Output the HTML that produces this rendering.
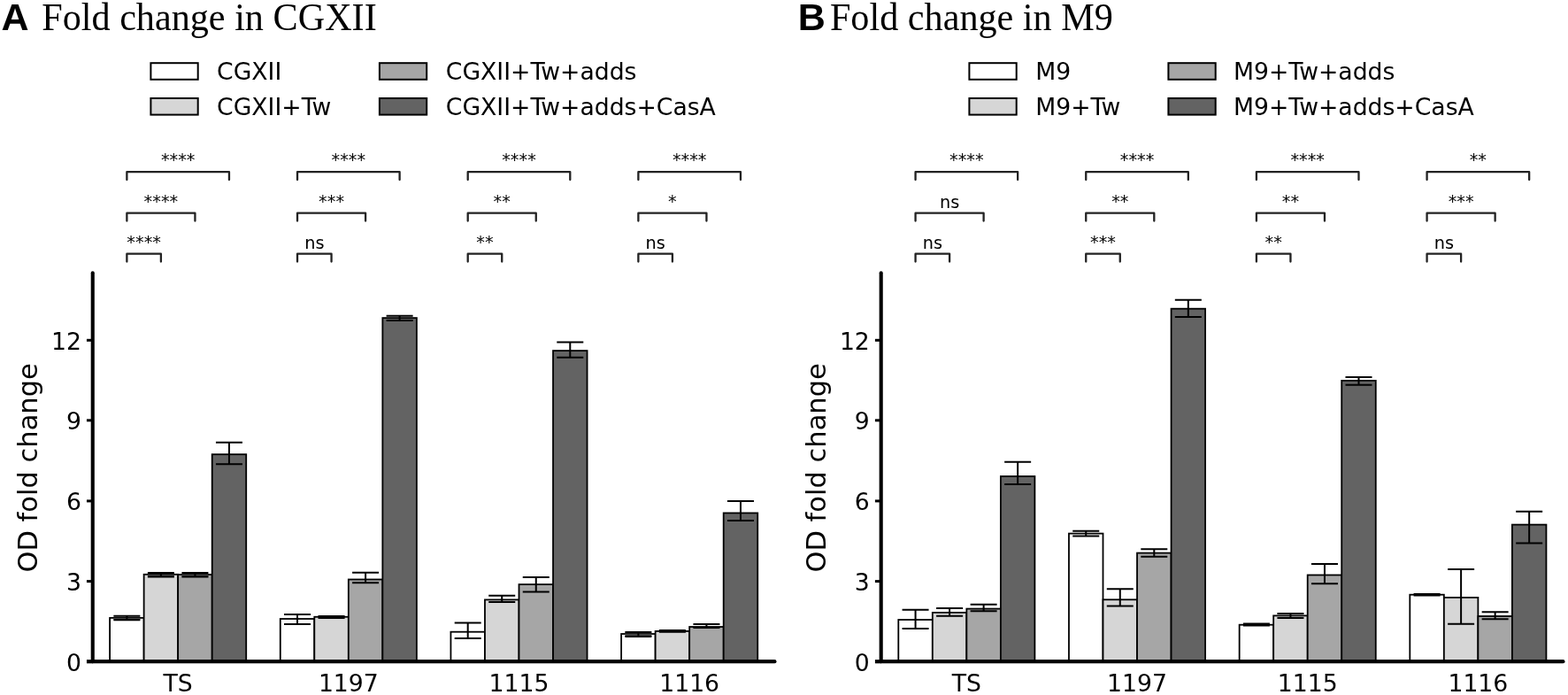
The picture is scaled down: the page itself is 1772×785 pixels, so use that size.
<!DOCTYPE html>
<html><head><meta charset="utf-8"><title>Fold change</title>
<style>
html,body{margin:0;padding:0;background:#fff;}
body{width:1772px;height:785px;overflow:hidden;}
svg{display:block;}
text{fill:#000;}
</style></head>
<body>
<svg width="1772" height="785" viewBox="0 0 1772 785">
<rect width="1772" height="785" fill="#fff"/>
<text x="1.45" y="34.4" font-family="'Liberation Sans', sans-serif" font-weight="bold" font-size="43">A</text>
<text transform="translate(47.2 33.9) scale(1 1.035)" font-family="'Liberation Serif', serif" font-size="42.2">Fold change in CGXII</text>
<rect x="170.4" y="71.2" width="53.3" height="18.6" fill="#ffffff" stroke="#000" stroke-width="2"/>
<text x="245.1" y="90.4" font-family="'DejaVu Sans', 'Liberation Sans', sans-serif" font-size="26.67">CGXII</text>
<rect x="170.4" y="111" width="53.3" height="18.6" fill="#d6d6d6" stroke="#000" stroke-width="2"/>
<text x="245.1" y="130.2" font-family="'DejaVu Sans', 'Liberation Sans', sans-serif" font-size="26.67">CGXII+Tw</text>
<rect x="428.9" y="71.2" width="53.3" height="18.6" fill="#a6a6a6" stroke="#000" stroke-width="2"/>
<text x="503.8" y="90.4" font-family="'DejaVu Sans', 'Liberation Sans', sans-serif" font-size="26.67">CGXII+Tw+adds</text>
<rect x="428.9" y="111" width="53.3" height="18.6" fill="#636363" stroke="#000" stroke-width="2"/>
<text x="503.8" y="130.2" font-family="'DejaVu Sans', 'Liberation Sans', sans-serif" font-size="26.67">CGXII+Tw+adds+CasA</text>
<rect x="124.1" y="697.9" width="38.53" height="49.3" fill="#ffffff" stroke="#000" stroke-width="1.8"/>
<rect x="162.63" y="648.8" width="38.53" height="98.4" fill="#d6d6d6" stroke="#000" stroke-width="1.8"/>
<rect x="201.16" y="649" width="38.53" height="98.2" fill="#a6a6a6" stroke="#000" stroke-width="1.8"/>
<rect x="239.69" y="513.2" width="38.53" height="234" fill="#636363" stroke="#000" stroke-width="1.8"/>
<rect x="128.37" y="697.9" width="30" height="2.4" fill="#404040"/>
<path d="M143.37 695.7V700.3M128.37 695.7H158.37M128.37 700.3H158.37" stroke="#000" stroke-width="2" fill="none"/>
<rect x="166.89" y="648.8" width="30" height="2.7" fill="#404040"/>
<path d="M181.89 647V651.5M166.89 647H196.89M166.89 651.5H196.89" stroke="#000" stroke-width="2" fill="none"/>
<rect x="205.43" y="649" width="30" height="2.5" fill="#404040"/>
<path d="M220.43 647V651.5M205.43 647H235.43M205.43 651.5H235.43" stroke="#000" stroke-width="2" fill="none"/>
<path d="M258.95 499.7V524.2M243.95 499.7H273.95M243.95 524.2H273.95" stroke="#000" stroke-width="2" fill="none"/>
<text x="201.16" y="781" text-anchor="middle" font-family="'DejaVu Sans', 'Liberation Sans', sans-serif" font-size="26.67">TS</text>
<path d="M143.37 203.1V194.2H258.96V203.1" stroke="#222" stroke-width="2.3" fill="none" stroke-linejoin="round" stroke-linecap="round"/>
<text x="201.16" y="187.4" text-anchor="middle" font-family="'DejaVu Sans', 'Liberation Sans', sans-serif" font-size="19.3">****</text>
<path d="M143.37 249.6V240.7H220.43V249.6" stroke="#222" stroke-width="2.3" fill="none" stroke-linejoin="round" stroke-linecap="round"/>
<text x="181.9" y="233.9" text-anchor="middle" font-family="'DejaVu Sans', 'Liberation Sans', sans-serif" font-size="19.3">****</text>
<path d="M143.37 295.6V286.7H181.9V295.6" stroke="#222" stroke-width="2.3" fill="none" stroke-linejoin="round" stroke-linecap="round"/>
<text x="162.63" y="279.9" text-anchor="middle" font-family="'DejaVu Sans', 'Liberation Sans', sans-serif" font-size="19.3">****</text>
<rect x="316.77" y="699" width="38.53" height="48.2" fill="#ffffff" stroke="#000" stroke-width="1.8"/>
<rect x="355.3" y="696.75" width="38.53" height="50.45" fill="#d6d6d6" stroke="#000" stroke-width="1.8"/>
<rect x="393.83" y="654.5" width="38.53" height="92.7" fill="#a6a6a6" stroke="#000" stroke-width="1.8"/>
<rect x="432.36" y="359.1" width="38.53" height="388.1" fill="#636363" stroke="#000" stroke-width="1.8"/>
<path d="M336.03 694V705M321.03 694H351.03M321.03 705H351.03" stroke="#000" stroke-width="2" fill="none"/>
<path d="M374.56 696V698M359.56 696H389.56M359.56 698H389.56" stroke="#000" stroke-width="2" fill="none"/>
<path d="M413.09 646.8V658.3M398.09 646.8H428.09M398.09 658.3H428.09" stroke="#000" stroke-width="2" fill="none"/>
<path d="M451.62 356.7V361.9M436.62 356.7H466.62M436.62 361.9H466.62" stroke="#000" stroke-width="2" fill="none"/>
<text x="393.83" y="781" text-anchor="middle" font-family="'DejaVu Sans', 'Liberation Sans', sans-serif" font-size="26.67">1197</text>
<path d="M336.03 203.1V194.2H451.62V203.1" stroke="#222" stroke-width="2.3" fill="none" stroke-linejoin="round" stroke-linecap="round"/>
<text x="393.83" y="187.4" text-anchor="middle" font-family="'DejaVu Sans', 'Liberation Sans', sans-serif" font-size="19.3">****</text>
<path d="M336.03 249.6V240.7H413.09V249.6" stroke="#222" stroke-width="2.3" fill="none" stroke-linejoin="round" stroke-linecap="round"/>
<text x="374.56" y="233.9" text-anchor="middle" font-family="'DejaVu Sans', 'Liberation Sans', sans-serif" font-size="19.3">***</text>
<path d="M336.03 295.6V286.7H374.56V295.6" stroke="#222" stroke-width="2.3" fill="none" stroke-linejoin="round" stroke-linecap="round"/>
<text x="355.3" y="280.5" text-anchor="middle" font-family="'DejaVu Sans', 'Liberation Sans', sans-serif" font-size="19.3">ns</text>
<rect x="509.44" y="713.7" width="38.53" height="33.5" fill="#ffffff" stroke="#000" stroke-width="1.8"/>
<rect x="547.97" y="677.4" width="38.53" height="69.8" fill="#d6d6d6" stroke="#000" stroke-width="1.8"/>
<rect x="586.5" y="660.1" width="38.53" height="87.1" fill="#a6a6a6" stroke="#000" stroke-width="1.8"/>
<rect x="625.03" y="396.1" width="38.53" height="351.1" fill="#636363" stroke="#000" stroke-width="1.8"/>
<path d="M528.7 703.4V721M513.7 703.4H543.7M513.7 721H543.7" stroke="#000" stroke-width="2" fill="none"/>
<path d="M567.23 672.8V679.9M552.23 672.8H582.23M552.23 679.9H582.23" stroke="#000" stroke-width="2" fill="none"/>
<path d="M605.76 652.1V668.4M590.76 652.1H620.76M590.76 668.4H620.76" stroke="#000" stroke-width="2" fill="none"/>
<path d="M644.29 386.6V403.8M629.29 386.6H659.29M629.29 403.8H659.29" stroke="#000" stroke-width="2" fill="none"/>
<text x="586.5" y="781" text-anchor="middle" font-family="'DejaVu Sans', 'Liberation Sans', sans-serif" font-size="26.67">1115</text>
<path d="M528.7 203.1V194.2H644.29V203.1" stroke="#222" stroke-width="2.3" fill="none" stroke-linejoin="round" stroke-linecap="round"/>
<text x="586.5" y="187.4" text-anchor="middle" font-family="'DejaVu Sans', 'Liberation Sans', sans-serif" font-size="19.3">****</text>
<path d="M528.7 249.6V240.7H605.76V249.6" stroke="#222" stroke-width="2.3" fill="none" stroke-linejoin="round" stroke-linecap="round"/>
<text x="567.23" y="233.9" text-anchor="middle" font-family="'DejaVu Sans', 'Liberation Sans', sans-serif" font-size="19.3">**</text>
<path d="M528.7 295.6V286.7H567.23V295.6" stroke="#222" stroke-width="2.3" fill="none" stroke-linejoin="round" stroke-linecap="round"/>
<text x="547.97" y="279.9" text-anchor="middle" font-family="'DejaVu Sans', 'Liberation Sans', sans-serif" font-size="19.3">**</text>
<rect x="702.11" y="716" width="38.53" height="31.2" fill="#ffffff" stroke="#000" stroke-width="1.8"/>
<rect x="740.64" y="712.9" width="38.53" height="34.3" fill="#d6d6d6" stroke="#000" stroke-width="1.8"/>
<rect x="779.17" y="708" width="38.53" height="39.2" fill="#a6a6a6" stroke="#000" stroke-width="1.8"/>
<rect x="817.7" y="579.45" width="38.53" height="167.75" fill="#636363" stroke="#000" stroke-width="1.8"/>
<rect x="706.38" y="716" width="30" height="3" fill="#404040"/>
<path d="M721.38 714V719M706.38 714H736.38M706.38 719H736.38" stroke="#000" stroke-width="2" fill="none"/>
<path d="M759.9 712V713.7M744.9 712H774.9M744.9 713.7H774.9" stroke="#000" stroke-width="2" fill="none"/>
<path d="M798.44 704.9V709M783.44 704.9H813.44M783.44 709H813.44" stroke="#000" stroke-width="2" fill="none"/>
<path d="M836.97 565.95V588M821.97 565.95H851.97M821.97 588H851.97" stroke="#000" stroke-width="2" fill="none"/>
<text x="779.17" y="781" text-anchor="middle" font-family="'DejaVu Sans', 'Liberation Sans', sans-serif" font-size="26.67">1116</text>
<path d="M721.38 203.1V194.2H836.97V203.1" stroke="#222" stroke-width="2.3" fill="none" stroke-linejoin="round" stroke-linecap="round"/>
<text x="779.17" y="187.4" text-anchor="middle" font-family="'DejaVu Sans', 'Liberation Sans', sans-serif" font-size="19.3">****</text>
<path d="M721.38 249.6V240.7H798.43V249.6" stroke="#222" stroke-width="2.3" fill="none" stroke-linejoin="round" stroke-linecap="round"/>
<text x="759.9" y="233.9" text-anchor="middle" font-family="'DejaVu Sans', 'Liberation Sans', sans-serif" font-size="19.3">*</text>
<path d="M721.38 295.6V286.7H759.9V295.6" stroke="#222" stroke-width="2.3" fill="none" stroke-linejoin="round" stroke-linecap="round"/>
<text x="740.64" y="280.5" text-anchor="middle" font-family="'DejaVu Sans', 'Liberation Sans', sans-serif" font-size="19.3">ns</text>
<path d="M104.75 308.3V747.2" stroke="#000" stroke-width="4.1" stroke-linecap="round"/>
<path d="M104.75 747.2H875.4" stroke="#000" stroke-width="4.2" stroke-linecap="round"/>
<path d="M97.95 747.2H104.75" stroke="#000" stroke-width="4.2"/>
<text x="91.85" y="757.6" text-anchor="end" font-family="'DejaVu Sans', 'Liberation Sans', sans-serif" font-size="26.67">0</text>
<path d="M97.95 656.6H104.75" stroke="#000" stroke-width="3"/>
<text x="91.85" y="666.9" text-anchor="end" font-family="'DejaVu Sans', 'Liberation Sans', sans-serif" font-size="26.67">3</text>
<path d="M97.95 565.9H104.75" stroke="#000" stroke-width="3"/>
<text x="91.85" y="576.2" text-anchor="end" font-family="'DejaVu Sans', 'Liberation Sans', sans-serif" font-size="26.67">6</text>
<path d="M97.95 474.8H104.75" stroke="#000" stroke-width="3"/>
<text x="91.85" y="485.1" text-anchor="end" font-family="'DejaVu Sans', 'Liberation Sans', sans-serif" font-size="26.67">9</text>
<path d="M97.95 384.3H104.75" stroke="#000" stroke-width="3"/>
<text x="91.85" y="394.6" text-anchor="end" font-family="'DejaVu Sans', 'Liberation Sans', sans-serif" font-size="26.67">12</text>
<text transform="translate(41.95 528.4) rotate(-90)" text-anchor="middle" font-family="'DejaVu Sans', 'Liberation Sans', sans-serif" font-size="30.5">OD fold change</text>
<text x="901.8" y="34.4" font-family="'Liberation Sans', sans-serif" font-weight="bold" font-size="43">B</text>
<text transform="translate(937.9 33.9) scale(1 1.035)" font-family="'Liberation Serif', serif" font-size="42.2">Fold change in M9</text>
<rect x="1095.4" y="71.2" width="53.3" height="18.6" fill="#ffffff" stroke="#000" stroke-width="2"/>
<text x="1170.3" y="90.4" font-family="'DejaVu Sans', 'Liberation Sans', sans-serif" font-size="26.67">M9</text>
<rect x="1095.4" y="111" width="53.3" height="18.6" fill="#d6d6d6" stroke="#000" stroke-width="2"/>
<text x="1170.3" y="130.2" font-family="'DejaVu Sans', 'Liberation Sans', sans-serif" font-size="26.67">M9+Tw</text>
<rect x="1320.4" y="71.2" width="53.3" height="18.6" fill="#a6a6a6" stroke="#000" stroke-width="2"/>
<text x="1394" y="90.4" font-family="'DejaVu Sans', 'Liberation Sans', sans-serif" font-size="26.67">M9+Tw+adds</text>
<rect x="1320.4" y="111" width="53.3" height="18.6" fill="#636363" stroke="#000" stroke-width="2"/>
<text x="1394" y="130.2" font-family="'DejaVu Sans', 'Liberation Sans', sans-serif" font-size="26.67">M9+Tw+adds+CasA</text>
<rect x="1015.3" y="700" width="38.53" height="47.2" fill="#ffffff" stroke="#000" stroke-width="1.8"/>
<rect x="1053.83" y="691.9" width="38.53" height="55.3" fill="#d6d6d6" stroke="#000" stroke-width="1.8"/>
<rect x="1092.36" y="687.6" width="38.53" height="59.6" fill="#a6a6a6" stroke="#000" stroke-width="1.8"/>
<rect x="1130.89" y="538" width="38.53" height="209.2" fill="#636363" stroke="#000" stroke-width="1.8"/>
<path d="M1034.57 688.85V710.1M1019.57 688.85H1049.57M1019.57 710.1H1049.57" stroke="#000" stroke-width="2" fill="none"/>
<path d="M1073.1 686.9V695.8M1058.1 686.9H1088.1M1058.1 695.8H1088.1" stroke="#000" stroke-width="2" fill="none"/>
<path d="M1111.62 682.8V690.3M1096.62 682.8H1126.62M1096.62 690.3H1126.62" stroke="#000" stroke-width="2" fill="none"/>
<path d="M1150.15 521.66V546.9M1135.15 521.66H1165.15M1135.15 546.9H1165.15" stroke="#000" stroke-width="2" fill="none"/>
<text x="1092.36" y="781" text-anchor="middle" font-family="'DejaVu Sans', 'Liberation Sans', sans-serif" font-size="26.67">TS</text>
<path d="M1034.57 203.1V194.2H1150.15V203.1" stroke="#222" stroke-width="2.3" fill="none" stroke-linejoin="round" stroke-linecap="round"/>
<text x="1092.36" y="187.4" text-anchor="middle" font-family="'DejaVu Sans', 'Liberation Sans', sans-serif" font-size="19.3">****</text>
<path d="M1034.57 249.6V240.7H1111.62V249.6" stroke="#222" stroke-width="2.3" fill="none" stroke-linejoin="round" stroke-linecap="round"/>
<text x="1073.1" y="234.5" text-anchor="middle" font-family="'DejaVu Sans', 'Liberation Sans', sans-serif" font-size="19.3">ns</text>
<path d="M1034.57 295.6V286.7H1073.1V295.6" stroke="#222" stroke-width="2.3" fill="none" stroke-linejoin="round" stroke-linecap="round"/>
<text x="1053.83" y="280.5" text-anchor="middle" font-family="'DejaVu Sans', 'Liberation Sans', sans-serif" font-size="19.3">ns</text>
<rect x="1207.97" y="602.6" width="38.53" height="144.6" fill="#ffffff" stroke="#000" stroke-width="1.8"/>
<rect x="1246.5" y="677.3" width="38.53" height="69.9" fill="#d6d6d6" stroke="#000" stroke-width="1.8"/>
<rect x="1285.03" y="624.6" width="38.53" height="122.6" fill="#a6a6a6" stroke="#000" stroke-width="1.8"/>
<rect x="1323.56" y="348.7" width="38.53" height="398.5" fill="#636363" stroke="#000" stroke-width="1.8"/>
<path d="M1227.24 599.65V605.5M1212.24 599.65H1242.24M1212.24 605.5H1242.24" stroke="#000" stroke-width="2" fill="none"/>
<path d="M1265.77 665.3V684.6M1250.77 665.3H1280.77M1250.77 684.6H1280.77" stroke="#000" stroke-width="2" fill="none"/>
<path d="M1304.3 620.2V628.7M1289.3 620.2H1319.3M1289.3 628.7H1319.3" stroke="#000" stroke-width="2" fill="none"/>
<path d="M1342.83 338.65V358.1M1327.83 338.65H1357.83M1327.83 358.1H1357.83" stroke="#000" stroke-width="2" fill="none"/>
<text x="1285.03" y="781" text-anchor="middle" font-family="'DejaVu Sans', 'Liberation Sans', sans-serif" font-size="26.67">1197</text>
<path d="M1227.24 203.1V194.2H1342.83V203.1" stroke="#222" stroke-width="2.3" fill="none" stroke-linejoin="round" stroke-linecap="round"/>
<text x="1285.03" y="187.4" text-anchor="middle" font-family="'DejaVu Sans', 'Liberation Sans', sans-serif" font-size="19.3">****</text>
<path d="M1227.24 249.6V240.7H1304.3V249.6" stroke="#222" stroke-width="2.3" fill="none" stroke-linejoin="round" stroke-linecap="round"/>
<text x="1265.77" y="233.9" text-anchor="middle" font-family="'DejaVu Sans', 'Liberation Sans', sans-serif" font-size="19.3">**</text>
<path d="M1227.24 295.6V286.7H1265.77V295.6" stroke="#222" stroke-width="2.3" fill="none" stroke-linejoin="round" stroke-linecap="round"/>
<text x="1246.5" y="279.9" text-anchor="middle" font-family="'DejaVu Sans', 'Liberation Sans', sans-serif" font-size="19.3">***</text>
<rect x="1400.64" y="705.7" width="38.53" height="41.5" fill="#ffffff" stroke="#000" stroke-width="1.8"/>
<rect x="1439.17" y="695.4" width="38.53" height="51.8" fill="#d6d6d6" stroke="#000" stroke-width="1.8"/>
<rect x="1477.7" y="649.5" width="38.53" height="97.7" fill="#a6a6a6" stroke="#000" stroke-width="1.8"/>
<rect x="1516.23" y="429.9" width="38.53" height="317.3" fill="#636363" stroke="#000" stroke-width="1.8"/>
<path d="M1419.9 704.5V706.5M1404.9 704.5H1434.9M1404.9 706.5H1434.9" stroke="#000" stroke-width="2" fill="none"/>
<path d="M1458.43 693.1V697.9M1443.43 693.1H1473.43M1443.43 697.9H1473.43" stroke="#000" stroke-width="2" fill="none"/>
<path d="M1496.96 636.9V659.2M1481.96 636.9H1511.96M1481.96 659.2H1511.96" stroke="#000" stroke-width="2" fill="none"/>
<path d="M1535.49 426V434.8M1520.49 426H1550.49M1520.49 434.8H1550.49" stroke="#000" stroke-width="2" fill="none"/>
<text x="1477.7" y="781" text-anchor="middle" font-family="'DejaVu Sans', 'Liberation Sans', sans-serif" font-size="26.67">1115</text>
<path d="M1419.9 203.1V194.2H1535.49V203.1" stroke="#222" stroke-width="2.3" fill="none" stroke-linejoin="round" stroke-linecap="round"/>
<text x="1477.7" y="187.4" text-anchor="middle" font-family="'DejaVu Sans', 'Liberation Sans', sans-serif" font-size="19.3">****</text>
<path d="M1419.9 249.6V240.7H1496.96V249.6" stroke="#222" stroke-width="2.3" fill="none" stroke-linejoin="round" stroke-linecap="round"/>
<text x="1458.43" y="233.9" text-anchor="middle" font-family="'DejaVu Sans', 'Liberation Sans', sans-serif" font-size="19.3">**</text>
<path d="M1419.9 295.6V286.7H1458.43V295.6" stroke="#222" stroke-width="2.3" fill="none" stroke-linejoin="round" stroke-linecap="round"/>
<text x="1439.17" y="279.9" text-anchor="middle" font-family="'DejaVu Sans', 'Liberation Sans', sans-serif" font-size="19.3">**</text>
<rect x="1593.31" y="671.7" width="38.53" height="75.5" fill="#ffffff" stroke="#000" stroke-width="1.8"/>
<rect x="1631.84" y="674.9" width="38.53" height="72.3" fill="#d6d6d6" stroke="#000" stroke-width="1.8"/>
<rect x="1670.37" y="696" width="38.53" height="51.2" fill="#a6a6a6" stroke="#000" stroke-width="1.8"/>
<rect x="1708.9" y="592.6" width="38.53" height="154.6" fill="#636363" stroke="#000" stroke-width="1.8"/>
<path d="M1612.58 671V672.5M1597.58 671H1627.58M1597.58 672.5H1627.58" stroke="#000" stroke-width="2" fill="none"/>
<path d="M1651.11 643V704.7M1636.11 643H1666.11M1636.11 704.7H1666.11" stroke="#000" stroke-width="2" fill="none"/>
<path d="M1689.63 691.2V699.3M1674.63 691.2H1704.63M1674.63 699.3H1704.63" stroke="#000" stroke-width="2" fill="none"/>
<path d="M1728.16 577.7V613.4M1713.16 577.7H1743.16M1713.16 613.4H1743.16" stroke="#000" stroke-width="2" fill="none"/>
<text x="1670.37" y="781" text-anchor="middle" font-family="'DejaVu Sans', 'Liberation Sans', sans-serif" font-size="26.67">1116</text>
<path d="M1612.58 203.1V194.2H1728.16V203.1" stroke="#222" stroke-width="2.3" fill="none" stroke-linejoin="round" stroke-linecap="round"/>
<text x="1670.37" y="187.4" text-anchor="middle" font-family="'DejaVu Sans', 'Liberation Sans', sans-serif" font-size="19.3">**</text>
<path d="M1612.58 249.6V240.7H1689.63V249.6" stroke="#222" stroke-width="2.3" fill="none" stroke-linejoin="round" stroke-linecap="round"/>
<text x="1651.11" y="233.9" text-anchor="middle" font-family="'DejaVu Sans', 'Liberation Sans', sans-serif" font-size="19.3">***</text>
<path d="M1612.58 295.6V286.7H1651.11V295.6" stroke="#222" stroke-width="2.3" fill="none" stroke-linejoin="round" stroke-linecap="round"/>
<text x="1631.84" y="280.5" text-anchor="middle" font-family="'DejaVu Sans', 'Liberation Sans', sans-serif" font-size="19.3">ns</text>
<path d="M995.7 308.3V747.2" stroke="#000" stroke-width="4.1" stroke-linecap="round"/>
<path d="M995.7 747.2H1766.4" stroke="#000" stroke-width="4.2" stroke-linecap="round"/>
<path d="M988.9 747.2H995.7" stroke="#000" stroke-width="4.2"/>
<text x="982.8" y="757.6" text-anchor="end" font-family="'DejaVu Sans', 'Liberation Sans', sans-serif" font-size="26.67">0</text>
<path d="M988.9 656.6H995.7" stroke="#000" stroke-width="3"/>
<text x="982.8" y="666.9" text-anchor="end" font-family="'DejaVu Sans', 'Liberation Sans', sans-serif" font-size="26.67">3</text>
<path d="M988.9 565.9H995.7" stroke="#000" stroke-width="3"/>
<text x="982.8" y="576.2" text-anchor="end" font-family="'DejaVu Sans', 'Liberation Sans', sans-serif" font-size="26.67">6</text>
<path d="M988.9 474.8H995.7" stroke="#000" stroke-width="3"/>
<text x="982.8" y="485.1" text-anchor="end" font-family="'DejaVu Sans', 'Liberation Sans', sans-serif" font-size="26.67">9</text>
<path d="M988.9 384.3H995.7" stroke="#000" stroke-width="3"/>
<text x="982.8" y="394.6" text-anchor="end" font-family="'DejaVu Sans', 'Liberation Sans', sans-serif" font-size="26.67">12</text>
<text transform="translate(932.9 528.4) rotate(-90)" text-anchor="middle" font-family="'DejaVu Sans', 'Liberation Sans', sans-serif" font-size="30.5">OD fold change</text>
</svg>
</body></html>
